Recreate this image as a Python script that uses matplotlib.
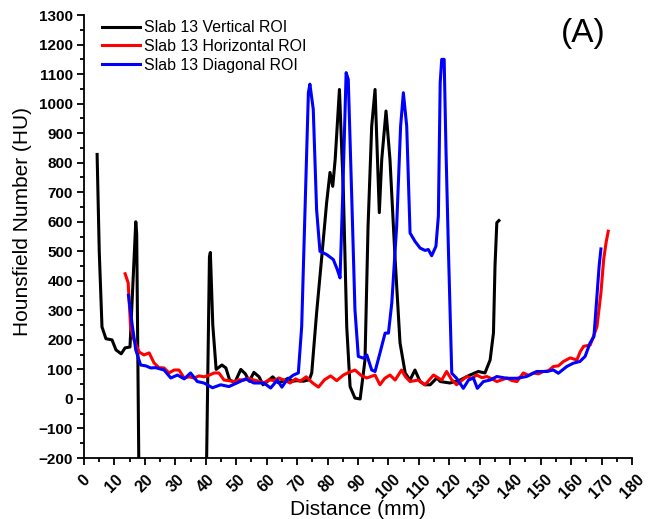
import matplotlib
matplotlib.use("Agg")
import matplotlib.pyplot as plt
from matplotlib.ticker import MultipleLocator

plt.rcParams["font.family"] = ["Liberation Sans", "DejaVu Sans"]

# Slab 13 vertical ROI
vert_x = [4.3, 5.0, 5.9, 7.2, 9.2, 10.5, 12.2, 13.5, 15.1, 17.0,
          17.3, 18.1, 40.1, 41.2, 41.5, 42.3, 43.4, 45.3, 46.6, 47.8,
          49.5, 51.5, 53.0, 54.3, 55.8, 57.5, 58.8, 60.3, 62.0, 63.8,
          65.3, 67.0, 68.5, 70.0, 72.0, 74.0, 74.8, 76.4, 78.1, 79.7,
          80.8, 81.7, 82.5, 83.9, 85.2, 86.3, 87.4, 89.0, 90.7, 92.3,
          93.3, 94.5, 95.6, 96.4, 97.0, 97.8, 99.2, 100.5, 102.2, 103.8,
          105.5, 107.1, 108.7, 110.4, 112.0, 113.7, 115.9, 117.0, 120.2, 123.5,
          126.8, 129.5, 131.7, 133.4, 134.5, 135.0, 135.6, 136.3]
vert_y = [828, 500, 244, 204, 200, 166, 153, 173, 176, 600,
          560, -330, -330, 480, 496, 250, 100, 115, 105, 65,
          55, 100, 85, 60, 90, 75, 48, 60, 75, 55,
          60, 70, 60, 62, 60, 65, 88, 291, 482, 665,
          767, 720, 811, 1048, 699, 244, 42, 3, 0, 132,
          584, 924, 1048, 811, 631, 811, 975, 811, 472, 190,
          88, 64, 98, 59, 48, 48, 71, 59, 54, 64,
          81, 93, 88, 132, 224, 449, 597, 604]

# Slab 13 horizontal ROI
horiz_x = [13.5, 14.5, 15.3, 16.4, 18.1, 19.7, 21.4, 23.0, 24.6, 26.3,
           27.9, 29.6, 31.2, 32.9, 34.5, 36.1, 37.8, 39.4, 41.0, 42.7,
           44.3, 46.0, 47.6, 49.3, 51.0, 52.6, 54.2, 55.8, 57.5, 59.1,
           60.8, 62.4, 64.0, 65.7, 67.7, 69.5, 71.0, 73.0, 75.0, 77.0,
           79.0, 81.0, 83.0, 85.2, 87.0, 89.0, 91.0, 92.9, 95.6, 97.2,
           98.8, 100.5, 102.2, 104.3, 105.6, 107.1, 109.8, 112.0, 114.8, 117.5,
           119.1, 120.8, 122.4, 124.0, 125.7, 127.4, 129.0, 130.7, 132.3, 134.0,
           135.6, 137.3, 138.9, 140.6, 142.2, 144.3, 146.0, 147.6, 149.3, 150.9,
           152.5, 154.2, 155.8, 157.5, 159.7, 161.9, 163.0, 164.1, 166.3, 168.5,
           169.8, 170.7, 171.5, 172.2]
horiz_y = [424, 393, 244, 200, 159, 149, 156, 122, 106, 105,
           88, 98, 98, 71, 75, 71, 78, 75, 80, 88,
           88, 64, 62, 59, 65, 64, 70, 64, 60, 54,
           65, 62, 71, 64, 54, 68, 60, 75, 55, 40,
           65, 78, 62, 81, 90, 98, 80, 71, 81, 48,
           70, 81, 64, 98, 75, 59, 64, 48, 81, 64,
           93, 65, 48, 62, 76, 70, 81, 72, 76, 68,
           59, 65, 71, 62, 59, 88, 80, 88, 85, 93,
           95, 110, 112, 127, 139, 132, 160, 178, 183, 245,
           359, 472, 530, 568]

# Slab 13 diagonal ROI
diag_x = [14.6, 15.9, 17.0, 18.6, 20.3, 21.9, 23.5, 26.3, 28.5, 30.7,
          32.9, 35.0, 37.2, 39.4, 42.2, 44.9, 47.6, 50.4, 53.1, 55.8,
          59.1, 61.3, 63.5, 65.0, 66.6, 68.8, 70.4, 71.5, 72.6, 73.7,
          74.2, 75.3, 76.4, 77.5, 79.7, 81.9, 83.2, 84.1, 85.0, 86.1,
          86.8, 87.9, 89.0, 90.1, 91.8, 92.9, 94.5, 95.6, 97.2, 98.9,
          100.0, 101.1, 102.7, 104.0, 104.9, 106.0, 107.1, 108.7, 110.4, 112.0,
          113.1, 114.2, 115.6, 116.4, 117.0, 117.5, 118.3, 118.9, 119.7, 120.8,
          122.4, 124.6, 126.3, 127.9, 129.2, 131.2, 133.4, 135.6, 138.9, 142.2,
          145.4, 148.7, 152.0, 154.2, 155.8, 158.6, 160.7, 162.9, 164.6, 166.2,
          167.5, 168.4, 169.2, 169.8]
diag_y = [351, 245, 166, 115, 112, 105, 106, 98, 71, 81,
          68, 88, 59, 54, 38, 48, 42, 55, 68, 54,
          54, 37, 64, 40, 64, 81, 88, 245, 641, 1037,
          1066, 981, 641, 500, 489, 472, 438, 410, 699, 1105,
          1082, 699, 302, 144, 138, 149, 98, 93, 155, 223,
          223, 325, 585, 924, 1037, 924, 562, 534, 511, 503,
          506, 485, 517, 619, 1071, 1150, 1150, 845, 506, 87,
          70, 36, 64, 71, 36, 59, 64, 76, 70, 70,
          76, 93, 93, 98, 87, 110, 121, 127, 144, 189,
          211, 336, 449, 508]

fig=plt.figure(figsize=(6.59,5.19),dpi=100)
ax=fig.add_axes([0.1275,0.1175,0.8315,0.8535])

ax.plot(vert_x,vert_y,color="black",lw=2.2,label="Slab 13 Vertical ROI")
ax.plot(horiz_x,horiz_y,color="red",lw=2.2,label="Slab 13 Horizontal ROI")
ax.plot(diag_x,diag_y,color="blue",lw=2.2,label="Slab 13 Diagonal ROI")

ax.set_xlim(0,180)
ax.set_ylim(-200,1300)
ax.xaxis.set_major_locator(MultipleLocator(10))
ax.xaxis.set_minor_locator(MultipleLocator(5))
ax.yaxis.set_major_locator(MultipleLocator(100))
ax.yaxis.set_minor_locator(MultipleLocator(50))
for s in ("top","right"): ax.spines[s].set_visible(False)
for s in ("left","bottom"): ax.spines[s].set_linewidth(1.3)
ax.tick_params(which="major",direction="out",length=5,width=1.3,labelsize=11,pad=3)
ax.tick_params(axis="x",which="major",labelsize=11.5,pad=5)
ax.tick_params(which="minor",direction="out",length=3,width=1.3)
for lab in ax.get_yticklabels(): lab.set_fontweight("bold")
for lab in ax.get_xticklabels():
  lab.set_fontweight("bold")
  lab.set_rotation(45)
  lab.set_ha("center")
  lab.set_va("top")

ax.set_xlabel("Distance (mm)",fontsize=15,labelpad=-1)
ax.set_ylabel("Hounsfield Number (HU)",fontsize=15,labelpad=5)
ax.yaxis.set_label_coords(-0.095,0.533)
ax.text(0.87,0.993,"(A)",transform=ax.transAxes,fontsize=24,ha="left",va="top")
ax.legend(loc="upper left",bbox_to_anchor=(0.022,1.003),frameon=False,fontsize=11.4,
          handlelength=2.4,handletextpad=0.25,labelspacing=0.25,borderaxespad=0)

fig.savefig("out.png",dpi=100)
